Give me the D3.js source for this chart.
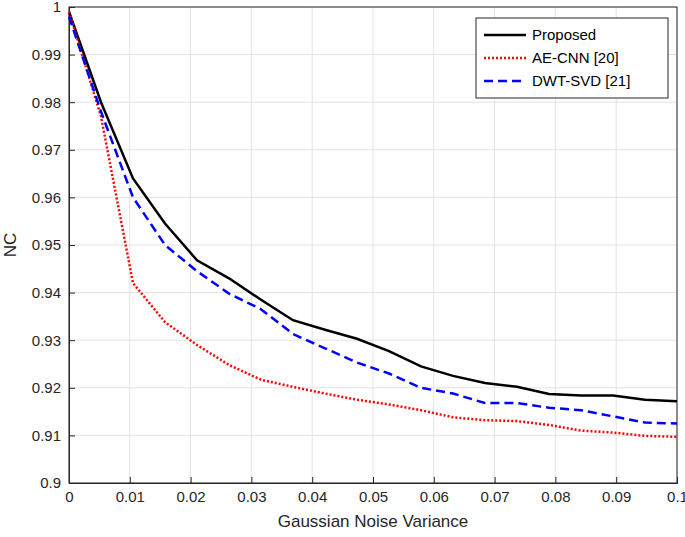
<!DOCTYPE html>
<html><head><meta charset="utf-8">
<script src="https://cdn.jsdelivr.net/npm/d3@7"></script>
<style>body{margin:0;background:#fff}svg{font-family:"Liberation Sans",Arial,sans-serif}</style>
</head><body><div id="chart"></div>
<script>
const xValues = d3.range(20).map(i => i * 0.1 / 19);
const proposed = [0.999,0.980,0.964,0.9545,0.9468,0.943,0.9385,0.9342,0.9322,0.9303,0.9277,0.9245,0.9225,0.921,0.9202,0.9187,0.9184,0.9184,0.9175,0.9172];
const aeCnn = [0.999,0.977,0.942,0.9338,0.929,0.9248,0.9217,0.9202,0.9188,0.9175,0.9165,0.9153,0.9138,0.9132,0.913,0.9122,0.911,0.9106,0.9099,0.9097];
const dwtSvd = [0.998,0.978,0.960,0.950,0.9445,0.9398,0.9365,0.9313,0.9283,0.9253,0.923,0.920,0.9188,0.9168,0.9168,0.9158,0.9153,0.914,0.9127,0.9125];
const xTicks = d3.range(11).map(i => i / 100);
const yTicks = d3.range(11).map(i => 0.9 + i / 100);
const series = [
  { name: 'Proposed', values: proposed, color: '#000', dash: null, width: 2.5 },
  { name: 'AE-CNN [20]', values: aeCnn, color: '#ff0000', dash: '2,2', width: 2.5 },
  { name: 'DWT-SVD [21]', values: dwtSvd, color: '#0000ff', dash: '9,5', width: 2.5 }
];

const W = 685, H = 537;
const m = { left: 69, right: 8, top: 7, bottom: 54 };
const svg = d3.select('#chart').append('svg').attr('width', W).attr('height', H);
const x = d3.scaleLinear().domain([0, 0.1]).range([m.left, W - m.right]);
const y = d3.scaleLinear().domain([0.9, 1]).range([H - m.bottom, m.top]);

const grid = svg.append('g').attr('stroke', '#e3e3e3').attr('stroke-width', 1);
grid.selectAll('.gx').data(xTicks).join('line').attr('x1', d => x(d)).attr('x2', d => x(d)).attr('y1', m.top).attr('y2', H - m.bottom);
grid.selectAll('.gy').data(yTicks).join('line').attr('y1', d => y(d)).attr('y2', d => y(d)).attr('x1', m.left).attr('x2', W - m.right);

const fmt = d => d === 0 ? '0' : d === 1 ? '1' : d3.format('.2~f')(d);
const fmtY = d => d === 1 ? '1' : d3.format('.2f')(d).replace(/0$/, d3.format('.2f')(d).endsWith('0') && d !== 0.9 ? '0' : '');

const xAxis = svg.append('g').attr('transform', `translate(0,${H - m.bottom})`)
  .call(d3.axisBottom(x).tickValues(xTicks).tickFormat(fmt).tickSizeOuter(0).tickSize(-6).tickPadding(8));
const yAxis = svg.append('g').attr('transform', `translate(${m.left},0)`)
  .call(d3.axisLeft(y).tickValues(yTicks).tickFormat(d => d3.format('.2~f')(d)).tickSizeOuter(0).tickSize(-6).tickPadding(8));
[xAxis, yAxis].forEach(a => {
  a.selectAll('text').attr('font-size', 15).attr('fill', '#262626');
  a.selectAll('line,path').attr('stroke', '#262626');
});
svg.append('rect').attr('x', m.left).attr('y', m.top).attr('width', W - m.left - m.right).attr('height', H - m.top - m.bottom)
  .attr('fill', 'none').attr('stroke', '#262626');

const line = d3.line().x((d, i) => x(xValues[i])).y(d => y(d));
svg.selectAll('.series').data(series).join('path')
  .attr('d', d => line(d.values)).attr('fill', 'none')
  .attr('stroke', d => d.color).attr('stroke-width', d => d.width)
  .attr('stroke-dasharray', d => d.dash);

svg.append('text').attr('x', (m.left + W - m.right) / 2).attr('y', H - 10).attr('text-anchor', 'middle')
  .attr('font-size', 17).attr('fill', '#262626').text('Gaussian Noise Variance');
svg.append('text').attr('transform', `translate(16,${(m.top + H - m.bottom) / 2}) rotate(-90)`).attr('text-anchor', 'middle')
  .attr('font-size', 17).attr('fill', '#262626').text('NC');

const lg = svg.append('g').attr('transform', 'translate(476,18)');
lg.append('rect').attr('width', 192).attr('height', 80).attr('fill', '#fff').attr('stroke', '#262626');
const items = lg.selectAll('g').data(series).join('g').attr('transform', (d, i) => `translate(0,${17 + i * 23})`);
items.append('line').attr('x1', 8).attr('x2', 50).attr('stroke', d => d.color).attr('stroke-width', d => d.width).attr('stroke-dasharray', d => d.dash);
items.append('text').attr('x', 56).attr('dy', '0.35em').attr('font-size', 15).attr('fill', '#000').text(d => d.name);
</script></body></html>
